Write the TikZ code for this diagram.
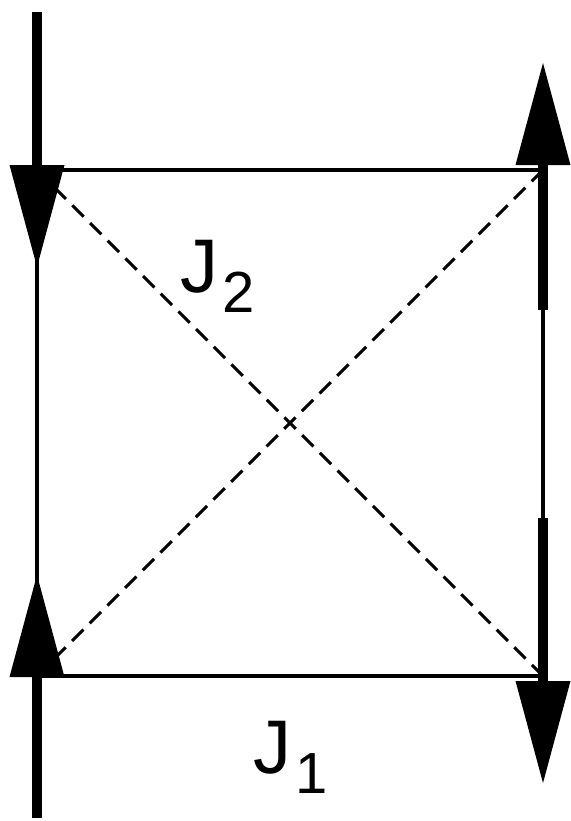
\documentclass[tikz,border=0pt]{standalone}
\usepackage{fontspec}
\setmainfont{Liberation Sans}
\usetikzlibrary{arrows.meta}
\newcommand\sublabel[2]{#1\hspace{2pt}\raisebox{-10pt}{\fontsize{29}{29}\selectfont #2}}
\begin{document}
\begin{tikzpicture}[
  x=0.5pt,y=-0.5pt,
  bond/.style={line width=1.6pt},
  cross/.style={line width=1.5pt, dash pattern=on 8pt off 4.5pt},
  spin/.style={line width=5pt, -{Triangle[length=51pt,width=27.5pt,line width=0pt]}},
  coupling/.style={anchor=base west, inner sep=0pt, font=\fontsize{38}{38}\selectfont}
]
\useasboundingbox (0,0) rectangle (571,821);
% sites of the plaquette
\coordinate (s1) at (37,170);
\coordinate (s2) at (543,170);
\coordinate (s3) at (543,676);
\coordinate (s4) at (37,676);
% ends of the spin arrows
\coordinate (s1tail) at (37,12);
\coordinate (s1tip) at (37,267);
\coordinate (s2tail) at (543,310);
\coordinate (s2tip) at (543,63);
\coordinate (s3tail) at (543,518);
\coordinate (s3tip) at (543,783);
\coordinate (s4tail) at (37,818);
\coordinate (s4tip) at (37,575);

\draw[bond] (s1) -- (s2) -- (s3) -- (s4) -- cycle;
\draw[cross] (s1) -- (s3);
\draw[cross] (s2) -- (s4);

\draw[spin] (s1tail) -- (s1tip);
\draw[spin] (s2tail) -- (s2tip);
\draw[spin] (s3tail) -- (s3tip);
\draw[spin] (s4tail) -- (s4tip);

\node[coupling] (j2) at (180,292) {\sublabel{J}{2}};
\node[coupling] (j1) at (253,773) {\sublabel{J}{1}};
\end{tikzpicture}
\end{document}
